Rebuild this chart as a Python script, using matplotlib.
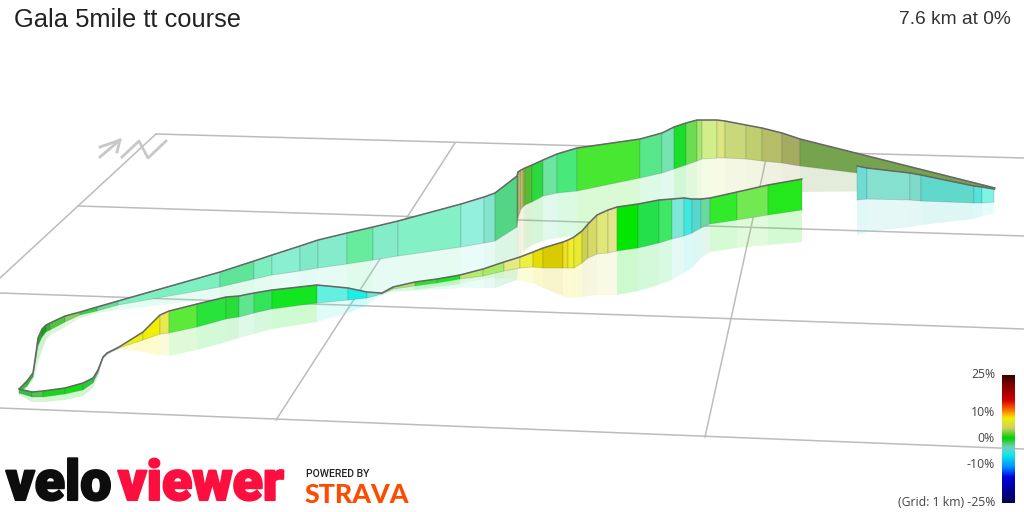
import numpy as np
import matplotlib
matplotlib.use("Agg")
import matplotlib.pyplot as plt
import matplotlib.patheffects as pe
from matplotlib.collections import PolyCollection
from matplotlib.colors import LinearSegmentedColormap

# far strand: hairpin -> up the long climb -> right hand end
a_x = [19,27,33,36,38,42,46,50,65,80,97,118,220,254,272,300,318,347,373,398,461,484,495,517,518,521,523,525,532,543,557,577,640,662,674,686,697,702,717,725,746,762,782,800,995]
a_top = [389,381,373,353,338,329,325,323,316,312,307,301,272,261,255,246,240,233,227,221,204,197,193,176,172,170,169,168,165,160,154,148,139,133,127,123,120,120,120,121,125,128,133,139,188]
a_bot = [393,386,377,358,346,337,332,330,322,315,311,305,287,279,275,271,268,264,260,256,247,243,241,227,218,209,207,205,202,196,193,191,178,173,169,165,161,159,158,158,159,161,163,166,190]
a_shadow = [395,388,380,370,362,350,340,335,327,318,313,310,298,296,295,295,295,294,293,292,288,288,288,280,264,256,253,250,245,241,238,235,222,216,211,207,203,202,199,198,197,195,193,192,190]
a_colors = ["#35c435","#2cc02c","#22cc22","#22cc22","#12b912","#0fa60f","#2fb82f","#4cc73c","#7ed35a","#2fd83a","#60e090","#7ef0c0","#5fe59a","#7deec0","#88f0d0","#80eac8","#85eccb","#66ec9c","#84ecc8","#84f0c6","#93f0dc","#84e4cc","#52d686",
            "#888850","#b5b56c","#c9c972","#94b040","#50c030","#2dd83f","#6ce5a0","#49e87a","#48e832","#58e68a","#76e4b0","#1bde2b","#6cdc50","#a9e670","#d2ee8a","#dce680","#c9d878","#bfcf70","#b5bd68","#a5ab60","#76a34e"]

# short piece that comes back from the right hand end
c_x = [857,867,910,921,974,982,994]
c_top = [166,168,173,175,186,187,189]
c_bot = [200,199,200,201,203,203,202]
c_shadow = [235,232,227,225,219,216,213]
c_colors = ["#6edcd2","#85e0cf","#7fdacb","#60d8cc","#55e4dc","#7cf4e6"]

# near strand: hairpin -> along the front -> stops at the gap
b_x = [19,32,43,65,83,93,98,103,107,119,143,160,169,197,226,239,254,272,317,348,367,382,393,415,437,460,483,504,520,533,543,563,568,574,582,588,597,608,617,638,659,672,684,692,701,710,737,768,802]
b_top = [389,392,391,388,383,378,370,357,353,347,332,315,311,304,297,296,293,290,285,288,292,293,287,282,279,275,269,262,257,252,248,242,240,237,231,224,215,210,207,204,200,199,198,199,199,198,192,185,179]
b_bot = [393,397,397,394,390,383,373,358,354,348,340,334,333,327,319,317,313,309,303,300,298,294,289,286,283,279,276,271,268,267,268,268,268,268,263,258,254,253,251,248,243,239,236,233,228,224,220,215,210]
b_shadow = [395,402,402,400,396,388,377,360,355,349,352,355,356,350,342,338,334,329,322,313,305,295,291,290,287,284,279,278,281,283,288,296,298,298,297,296,295,295,295,291,285,280,273,268,258,252,248,245,242]
b_colors = ["#2cc23a","#45cc45","#15d918","#12dd15","#2fc73a","#46b858","#5a9a6a","#5a9a6a","#8aa86a","#eeee10","#f2f000","#e8e850","#5cea3a","#27e33a","#29dc38","#60e490","#33e458","#13e621","#64f0e0","#1ceee8","#65e8d8","#8be05c","#a8e46c","#2ee02c","#14e818","#b4ea6e","#a8ea64","#e2ea80","#eef040","#e6dc00","#d8cc00","#eee020","#f0ee28","#e8ea30","#cfcf50","#d8d868","#e0e678","#e2e58a","#02e600","#24e04a","#3ee864","#7ee8d8","#40e8e0","#58d8cc","#6bd8a0","#32ea2c","#72e852","#24e81c"]

# ground grid, (x0, y0, x1, y1) per line
grid_lines = [(156,134,1024,158),(78,206,1024,236),(0,293,1024,329),(0,408,1024,449),
              (156,134,0,278),(455,143,276,420),(768,150,705,437)]
north_strokes = [[(100,157),(120,140)],[(100,147),(120,140),(117,152)],
                 [(122,157),(139,141),(148,158),(166,141)]]

bar_y = [375,385,400,410,418,428,438,445,448,455,467,477,503]
bar_colors = ["#3a0000","#800000","#d00000","#ff7000","#f0f000","#d0d060","#00d000","#60d090","#70d0c8","#10e8e8","#0090ff","#0000e0","#000050"]
bar_labels = ["25%","10%","0%","-10%","(Grid: 1 km) -25%"]
bar_label_y = [375,413,439,464,503]


def draw_strand(ax, x, top, bot, shadow, colors, z):
    walls, shades = [], []
    for i in range(len(colors)):
        walls.append([(x[i],top[i]),(x[i+1],top[i+1]),(x[i+1],bot[i+1]),(x[i],bot[i])])
        shades.append([(x[i],bot[i]),(x[i+1],bot[i+1]),(x[i+1],shadow[i+1]),(x[i],shadow[i])])
    sh = PolyCollection(shades, facecolors=colors, edgecolors="none", alpha=0.2, zorder=z)
    ax.add_collection(sh)
    wl = PolyCollection(walls, facecolors=colors, edgecolors=(0.2,0.3,0.3,0.22), linewidths=0.6, zorder=z+0.1)
    ax.add_collection(wl)
    ax.plot(x, top, color="#666666", lw=1.1, zorder=z+0.2, solid_capstyle="round")


fig = plt.figure(figsize=(10.24,5.12), dpi=100)
ax = fig.add_axes([0,0,1,1])

for x0,y0,x1,y1 in grid_lines:
    ax.plot([x0,x1],[y0,y1], color="#bcbcbc", lw=1.1, zorder=1)
for st in north_strokes:
    xs,ys = zip(*st)
    ax.plot(xs, ys, color="#c8c8c8", lw=2, zorder=1)

draw_strand(ax, a_x, a_top, a_bot, a_shadow, a_colors, 2)
draw_strand(ax, c_x, c_top, c_bot, c_shadow, c_colors, 3)
draw_strand(ax, b_x, b_top, b_bot, b_shadow, b_colors, 4)

# gradient legend
stops = [(y-bar_y[0])/(bar_y[-1]-bar_y[0]) for y in bar_y]
cmap = LinearSegmentedColormap.from_list("grade", list(zip(stops, bar_colors)))
ax.imshow(np.linspace(0,1,256).reshape(-1,1), cmap=cmap, aspect="auto", extent=(1002,1015,503,375), zorder=5)
for lab,y in zip(bar_labels, bar_label_y):
    ax.text(995, y, lab, ha="right", va="center", fontsize=8.8, color="#444444", family="Open Sans", zorder=6)

ax.text(14, 20, "Gala 5mile tt course", ha="left", va="center", fontsize=18.4, color="#222222", family="Liberation Sans")
ax.text(1011, 19, "7.6 km at 0%", ha="right", va="center", fontsize=13.8, color="#333333", family="Liberation Sans")

# logo words, a thin stroke thickens them up
ax.text(6, 500, "velo", ha="left", va="baseline", fontsize=40, color="#0d0d0d", family="Roboto", weight="black", zorder=7,
        path_effects=[pe.withStroke(linewidth=1.5, foreground="#0d0d0d")])
ax.text(118, 500, "viewer", ha="left", va="baseline", fontsize=40, color="#fc0f3f", family="Roboto", weight="black", zorder=7,
        path_effects=[pe.withStroke(linewidth=1.5, foreground="#fc0f3f")])
ax.text(306, 477, "POWERED BY", ha="left", va="baseline", fontsize=7.6, color="#222222", family="Roboto", weight="medium")
ax.text(305, 503, "STRAVA", ha="left", va="baseline", fontsize=19.3, color="#fc4c02", family="Lato", weight="black")

ax.set_xlim(0,1024)
ax.set_ylim(512,0)
ax.axis("off")
fig.savefig("out.png", dpi=100)
